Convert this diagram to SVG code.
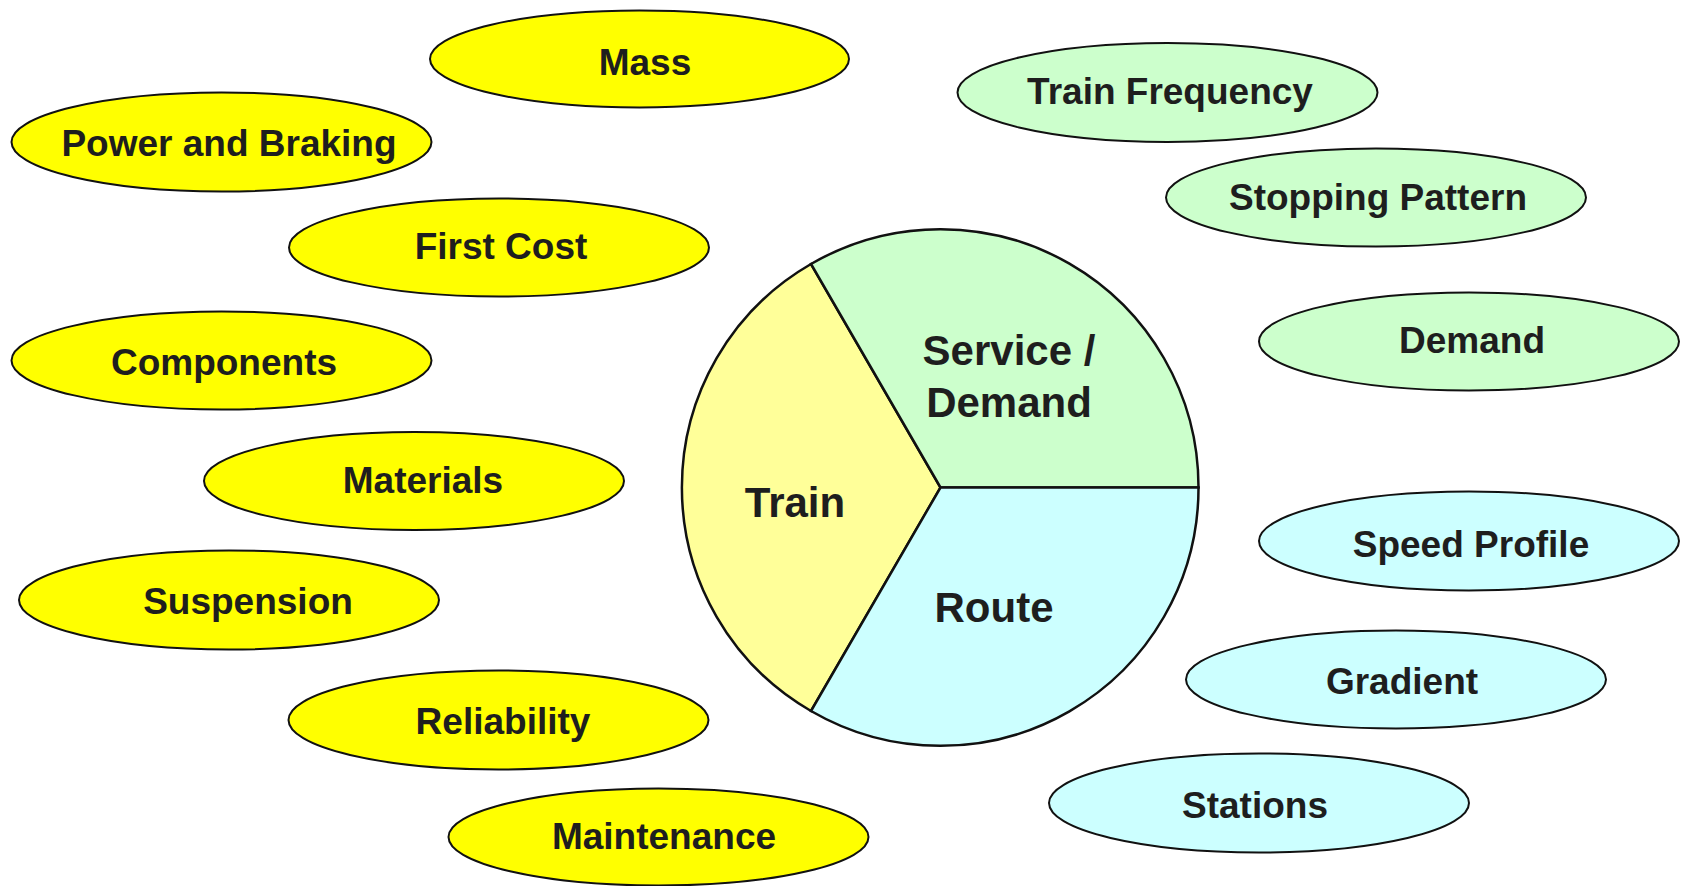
<svg xmlns="http://www.w3.org/2000/svg" width="1687" height="886" viewBox="0 0 1687 886">
<style>
.n ellipse{stroke:#111;stroke-width:2}
.y ellipse{fill:#FFFF00}
.g ellipse{fill:#CCFFCC}
.c ellipse{fill:#CCFFFF}
text{font-family:"Liberation Sans",Arial,sans-serif;font-weight:bold;fill:#1e1e1e;text-anchor:middle}
.s{font-size:37px}
.b{font-size:42px}
.seg{stroke:#111;stroke-width:2.5}
</style>
<rect width="1687" height="886" fill="#fff"/>
<g id="hub">
<path class="seg" d="M940.5,487.5 L811,264 A258,258 0 0,0 811,711 Z" fill="#FFFF99"/>
<path class="seg" d="M940.5,487.5 L811,264 A258,258 0 0,1 1198.5,487.5 Z" fill="#CCFFCC"/>
<path class="seg" d="M940.5,487.5 L1198.5,487.5 A258,258 0 0,1 811,711 Z" fill="#CCFFFF"/>
<text class="b" x="795" y="517">Train</text>
<text class="b" x="1009" y="365">Service /</text>
<text class="b" x="1009" y="417">Demand</text>
<text class="b" x="994" y="622">Route</text>
</g>
<g id="mass" class="n y"><ellipse cx="639.5" cy="59" rx="209.5" ry="48.5"/><text class="s" x="645" y="75">Mass</text></g>
<g id="power-braking" class="n y"><ellipse cx="221.5" cy="142" rx="210" ry="49.5"/><text class="s" x="229" y="156">Power and Braking</text></g>
<g id="first-cost" class="n y"><ellipse cx="499" cy="247.5" rx="210" ry="49"/><text class="s" x="501" y="259">First Cost</text></g>
<g id="components" class="n y"><ellipse cx="221.5" cy="360.5" rx="210" ry="49"/><text class="s" x="224" y="375">Components</text></g>
<g id="materials" class="n y"><ellipse cx="414" cy="481" rx="210" ry="49"/><text class="s" x="423" y="493">Materials</text></g>
<g id="suspension" class="n y"><ellipse cx="229" cy="600" rx="210" ry="49.5"/><text class="s" x="248" y="614">Suspension</text></g>
<g id="reliability" class="n y"><ellipse cx="498.5" cy="720" rx="210" ry="49.5"/><text class="s" x="503" y="734">Reliability</text></g>
<g id="maintenance" class="n y"><ellipse cx="658.5" cy="837" rx="210" ry="48.5"/><text class="s" x="664" y="849">Maintenance</text></g>
<g id="train-frequency" class="n g"><ellipse cx="1167.5" cy="92.5" rx="210" ry="49.5"/><text class="s" x="1170" y="104">Train Frequency</text></g>
<g id="stopping-pattern" class="n g"><ellipse cx="1376" cy="197.5" rx="210" ry="49"/><text class="s" x="1378" y="210">Stopping Pattern</text></g>
<g id="demand" class="n g"><ellipse cx="1469" cy="341.5" rx="210" ry="49"/><text class="s" x="1472" y="353">Demand</text></g>
<g id="speed-profile" class="n c"><ellipse cx="1469" cy="541" rx="210" ry="49.5"/><text class="s" x="1471" y="557">Speed Profile</text></g>
<g id="gradient" class="n c"><ellipse cx="1396" cy="679.5" rx="210" ry="49"/><text class="s" x="1402" y="694">Gradient</text></g>
<g id="stations" class="n c"><ellipse cx="1259" cy="803" rx="210" ry="49.5"/><text class="s" x="1255" y="818">Stations</text></g>
<g id="connectors"/>
</svg>
